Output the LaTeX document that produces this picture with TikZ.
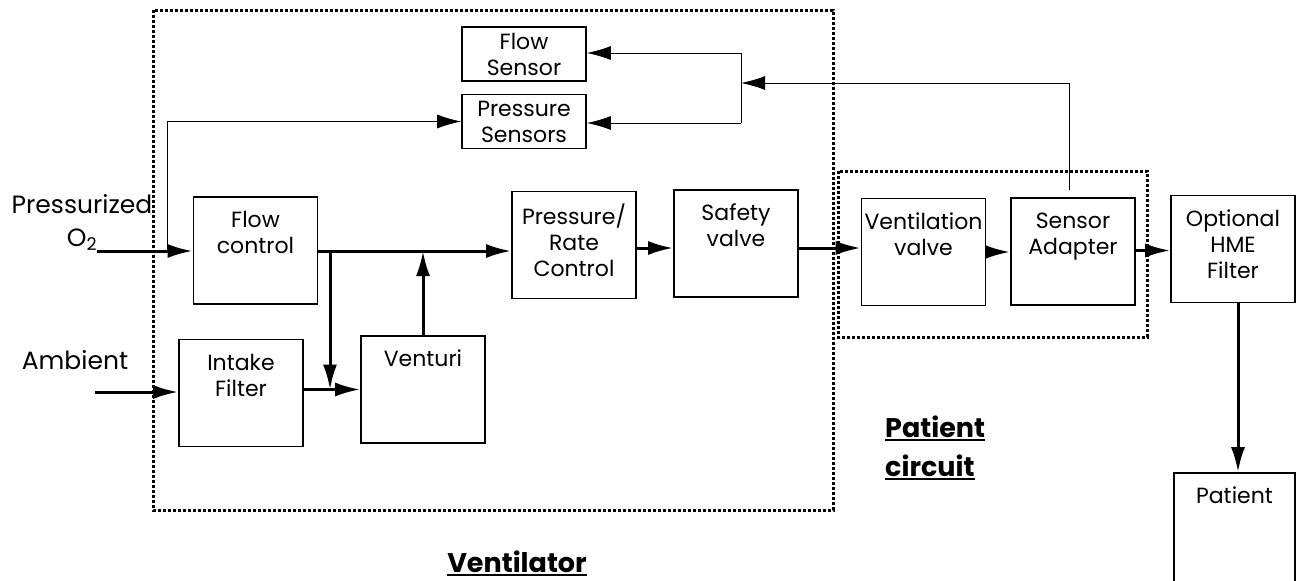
\documentclass[tikz,border=0pt]{standalone}
\usepackage{fontspec}
\setmainfont{Poppins}
\usetikzlibrary{arrows.meta}
\newcommand{\myul}[1]{\setbox0\hbox{#1}\rlap{\rule[-4pt]{\wd0}{2.5pt}}\box0}
\begin{document}
\begin{tikzpicture}[x=1pt,y=-1pt,
  box/.style={draw, line width=1.6pt, minimum width=124pt, minimum height=107pt, inner sep=0pt},
  sbox/.style={draw, line width=1.6pt, minimum width=124pt, minimum height=54pt, inner sep=0pt,
    align=center, font=\fontsize{22}{26}\selectfont},
  btxt/.style={align=center, inner sep=0pt, font=\fontsize{22}{26}\selectfont},
  ltxt/.style={inner sep=0pt, font=\fontsize{25}{30}\selectfont},
  ttl/.style={inner sep=0pt, font=\fontsize{27}{33}\selectfont\bfseries},
  flow/.style={line width=3pt, -{Latex[length=25pt,width=14pt]}},
  sig/.style={line width=1pt, -{Latex[length=24pt,width=14pt]}},
  sigline/.style={line width=1pt},
  group/.style={line width=3pt, dash pattern=on 3pt off 2pt}
]
\useasboundingbox (0,0) rectangle (1296,581);
\clip (0,0) rectangle (1296,581);

% groups
\draw[group] (153,10) rectangle (833,510);
\draw[group] (838,171) rectangle (1147,337);

% boxes
\node[sbox] (fs) at (524,54) {Flow\\Sensor};
\node[sbox] (ps) at (524,121.5) {Pressure\\Sensors};
\node[box, label={[btxt,anchor=north,yshift=-13pt]north:{\strut Flow\\control}}] (fc) at (255.5,250.5) {};
\node[box, label={[btxt,anchor=north,yshift=-13pt]north:{\strut Intake\\Filter}}] (in) at (241,393) {};
\node[box, label={[btxt,anchor=north,yshift=-13pt]north:{\strut Venturi}}] (vt) at (423,389.5) {};
\node[box, label={[btxt,anchor=north,yshift=-13pt]north:{\strut Pressure/\\Rate\\Control}}] (pr) at (574,245) {};
\node[box, label={[btxt,anchor=north,yshift=-13pt]north:{\strut Safety\\valve}}] (sv) at (736,243.5) {};
\node[box, label={[btxt,anchor=north,yshift=-13pt]north:{\strut Ventilation\\valve}}] (vv) at (923.5,252) {};
\node[box, label={[btxt,anchor=north,yshift=-13pt]north:{\strut Sensor\\Adapter}}] (sa) at (1073,251.5) {};
\node[box, label={[btxt,anchor=north,yshift=-13pt]north:{\strut Optional\\HME\\Filter}}] (hm) at (1233,249) {};
\node[box, minimum width=121pt, minimum height=130pt, label={[btxt,anchor=north,yshift=-13pt]north:{\strut Patient}}] (pt) at (1234.5,538) {};

% labels
\node[ltxt, anchor=base] (lp) at (82,213) {Pressurized};
\node[ltxt, anchor=base] (lo) at (82,246) {O\textsubscript{2}};
\node[ltxt, anchor=base] (la) at (75,369) {Ambient};
\node[ttl, anchor=base] (lv) at (517,572) {\myul{Ventilator}};
\node[ttl, anchor=base west] (lpa) at (885,437) {\myul{Patient}};
\node[ttl, anchor=base west] (lpc) at (885,476) {\myul{circuit}};

% coordinates
\coordinate (o2) at (97,251);
\coordinate (am) at (95,392);
\coordinate (j0) at (167,251);
\coordinate (j1) at (330,251);
\coordinate (jt) at (741,53);
\coordinate (jb) at (741,123);
\coordinate (jm) at (741,83);
\coordinate (s1) at (1069,190);

% main flow
\draw[flow] (o2) -- (o2 -| fc.west);
\draw[flow] (am) -- (am -| in.west);
\draw[flow] (in.east |- vt.west) -- (vt.west);
\draw[flow] (fc.east |- o2) -- (o2 -| pr.west);
\draw[flow] (j1) -- (j1 |- vt.west);
\draw[flow] (vt.north) -- (vt.north |- o2);
\draw[flow] ([yshift=-3pt]pr.east) -- ([yshift=-3pt]pr.east -| sv.west);
\draw[flow] ([yshift=-4.5pt]sv.east) -- ([yshift=-4.5pt]sv.east -| vv.west);
\draw[flow] (vv.east) -- (vv.east -| sa.west);
\draw[flow] ([yshift=1pt]sa.east) -- ([yshift=1pt]sa.east -| hm.west);
\draw[flow] ([xshift=5pt]hm.south) -- ([xshift=5pt]hm.south |- pt.north);

% sensing lines
\draw[sig] (j0) |- (ps.west);
\draw[sig] (s1) |- (jm);
\draw[sigline] (jt) -- (jb);
\draw[sig] (jt) -- (jt -| fs.east);
\draw[sig] (jb) -- (jb -| ps.east);
\end{tikzpicture}
\end{document}
